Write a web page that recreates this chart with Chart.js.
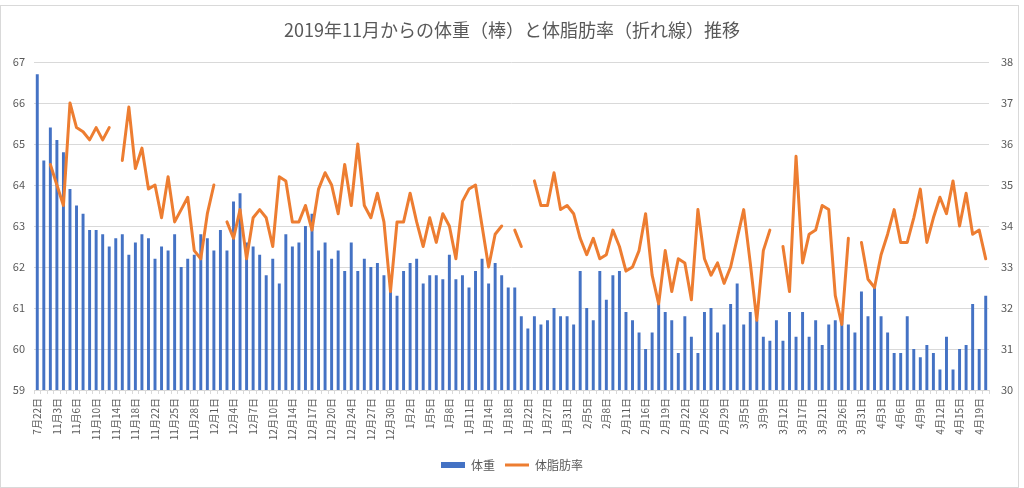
<!DOCTYPE html>
<html><head><meta charset="utf-8">
<script src="https://cdn.jsdelivr.net/npm/chart.js@4"></script>
<style>html,body{margin:0;padding:0;background:#fff}</style>
</head><body>
<canvas id="c" width="1024" height="488"></canvas>
<script>
const tickLabels = ['7月22日','11月3日','11月6日','11月10日','11月14日','11月18日','11月22日','11月25日','11月28日','12月1日','12月4日','12月7日','12月10日','12月14日','12月17日','12月20日','12月24日','12月27日','12月30日','1月2日','1月5日','1月8日','1月11日','1月14日','1月18日','1月22日','1月27日','1月31日','2月5日','2月8日','2月11日','2月16日','2月19日','2月22日','2月26日','2月29日','3月5日','3月9日','3月12日','3月17日','3月21日','3月26日','3月31日','4月3日','4月6日','4月9日','4月12日','4月15日','4月19日'];

const weight = [
66.7,64.6,65.4,65.1,64.8,63.9,63.5,63.3,62.9,62.9,
62.8,62.5,62.7,62.8,62.3,62.6,62.8,62.7,62.2,62.5,
62.4,62.8,62.0,62.2,62.3,62.8,62.7,62.4,62.9,62.4,
63.6,63.8,62.6,62.5,62.3,61.8,62.2,61.6,62.8,62.5,
62.6,63.0,63.3,62.4,62.6,62.2,62.4,61.9,62.6,61.9,
62.2,62.0,62.1,61.8,61.4,61.3,61.9,62.1,62.2,61.6,
61.8,61.8,61.7,62.3,61.7,61.8,61.5,61.9,62.2,61.6,
62.1,61.8,61.5,61.5,60.8,60.5,60.8,60.6,60.7,61.0,
60.8,60.8,60.6,61.9,61.0,60.7,61.9,61.2,61.8,61.9,
60.9,60.7,60.4,60.0,60.4,61.1,60.9,60.7,59.9,60.8,
60.3,59.9,60.9,61.0,60.4,60.6,61.1,61.6,60.6,60.9,
60.7,60.3,60.2,60.7,60.2,60.9,60.3,60.9,60.3,60.7,
60.1,60.6,60.7,60.8,60.6,60.4,61.4,60.8,61.5,60.8,
60.4,59.9,59.9,60.8,60.0,59.8,60.1,59.9,59.5,60.3,
59.5,60.0,60.1,61.1,60.0,61.3
];

const bodyFat = [
null,null,35.5,35.0,34.5,37.0,36.4,36.3,36.1,36.4,
36.1,36.4,null,35.6,36.9,35.4,35.9,34.9,35.0,34.2,
35.2,34.1,34.4,34.7,33.4,33.2,34.3,35.0,null,34.1,
33.7,34.4,33.2,34.2,34.4,34.2,33.5,35.2,35.1,34.1,
34.1,34.5,33.9,34.9,35.3,35.0,34.3,35.5,34.5,36.0,
34.5,34.2,34.8,34.1,32.4,34.1,34.1,34.8,34.1,33.5,
34.2,33.6,34.3,34.0,33.2,34.6,34.9,35.0,34.0,33.0,
33.8,34.0,null,33.9,33.5,null,35.1,34.5,34.5,35.3,
34.4,34.5,34.3,33.7,33.3,33.7,33.2,33.3,33.9,33.5,
32.9,33.0,33.4,34.3,32.8,32.1,33.4,32.4,33.2,33.1,
32.2,34.4,33.2,32.8,33.1,32.6,33.0,33.7,34.4,33.1,
31.7,33.4,33.9,null,33.5,32.4,35.7,33.1,33.8,33.9,
34.5,34.4,32.3,31.6,33.7,null,33.6,32.7,32.5,33.3,
33.8,34.4,33.6,33.6,34.2,34.9,33.6,34.2,34.7,34.3,
35.1,34.0,34.8,33.8,33.9,33.2
];

const categories = weight.map((_, i) => (i % 3 === 0 ? tickLabels[i / 3] : ''));

const FONT = '"Noto Sans CJK JP", "Noto Sans", sans-serif';
Chart.defaults.font.family = FONT;
Chart.defaults.color = '#595959';

const borderPlugin = {
  id: 'outerBorder',
  beforeDraw(chart) {
    const c = chart.ctx;
    c.save();
    c.fillStyle = '#ffffff';
    c.fillRect(0, 0, chart.width, chart.height);
    c.strokeStyle = '#d9d9d9';
    c.lineWidth = 1;
    c.strokeRect(0.5, 5.5, 1018, 482);
    c.restore();
  }
};

new Chart(document.getElementById('c'), {
  type: 'bar',
  data: {
    labels: categories,
    datasets: [
      {
        type: 'bar', label: '体重', data: weight,
        backgroundColor: '#4472C4', borderWidth: 0,
        yAxisID: 'y', order: 1,
        barPercentage: 0.45, categoryPercentage: 1,
        pointStyle: 'rect'
      },
      {
        type: 'line', label: '体脂肪率', data: bodyFat,
        borderColor: '#ED7D31', backgroundColor: '#ED7D31',
        borderWidth: 3, pointRadius: 0, tension: 0, spanGaps: false,
        borderJoinStyle: 'round', borderCapStyle: 'round',
        yAxisID: 'y1', order: 0, pointStyle: 'line'
      }
    ]
  },
  options: {
    responsive: false,
    animation: false,
    layout: { padding: { left: 0, right: 0, top: 0, bottom: 7 } },
    plugins: {
      title: {
        display: true,
        text: '2019年11月からの体重（棒）と体脂肪率（折れ線）推移',
        color: '#595959',
        font: { size: 18, weight: 'normal' },
        padding: { top: 19, bottom: 21.4 }
      },
      legend: {
        position: 'bottom',
        labels: {
          usePointStyle: true, pointStyleWidth: 24, boxHeight: 6,
          font: { size: 12 }, color: '#595959', padding: 10,
          sort: (a, b) => a.datasetIndex - b.datasetIndex
        }
      },
      tooltip: { enabled: false }
    },
    scales: {
      x: {
        offset: true,
        grid: { display: true, drawOnChartArea: false, drawTicks: true, tickLength: 4, color: '#d9d9d9', offset: true },
        border: { display: true, color: '#d9d9d9' },
        ticks: { autoSkip: false, maxRotation: 90, minRotation: 90, padding: 4, font: { size: 10 }, color: '#595959' },
        afterFit(s) { s.height = 59; }
      },
      y: {
        position: 'left', min: 59, max: 67,
        ticks: { stepSize: 1, padding: 9, font: { size: 11 }, color: '#595959' },
        grid: { color: '#d9d9d9', drawTicks: false },
        border: { display: false },
        afterFit(s) { s.width = 34; }
      },
      y1: {
        position: 'right', min: 30, max: 38,
        ticks: { stepSize: 1, padding: 12, font: { size: 11 }, color: '#595959' },
        grid: { drawOnChartArea: false, drawTicks: false },
        border: { display: false },
        afterFit(s) { s.width = 35; }
      }
    }
  },
  plugins: [borderPlugin]
});
</script>
</body></html>
